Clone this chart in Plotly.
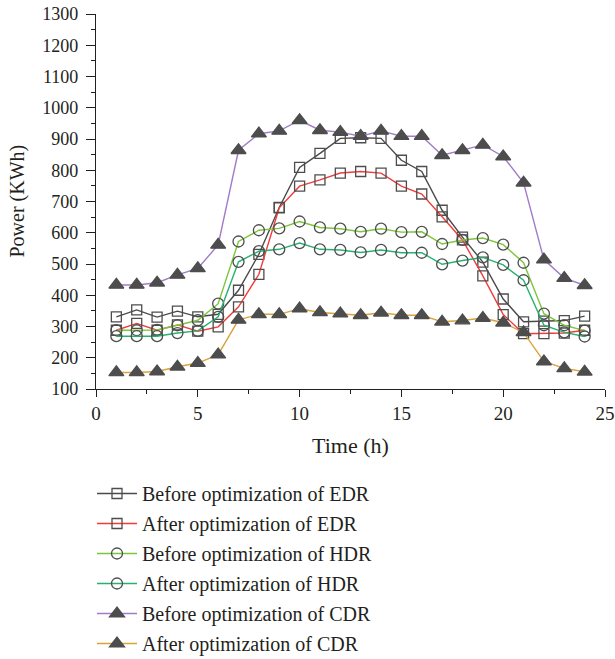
import plotly.graph_objects as go

hours = list(range(1, 25))

before_edr = [331, 353, 330, 349, 331, 339, 416, 531, 681, 809, 854, 902,
              904, 902, 832, 796, 672, 586, 506, 388, 315, 317, 319, 333]
after_edr = [288, 310, 288, 305, 285, 299, 363, 467, 680, 749, 769, 791,
             796, 791, 749, 724, 651, 577, 462, 338, 277, 277, 279, 288]
before_hdr = [288, 288, 289, 304, 320, 373, 572, 608, 614, 636, 617, 613,
              603, 613, 602, 603, 564, 577, 583, 562, 504, 341, 304, 287]
after_hdr = [269, 269, 269, 279, 286, 331, 507, 541, 547, 567, 547, 545,
             537, 545, 536, 536, 499, 511, 521, 497, 448, 304, 281, 268]
before_cdr = [433, 433, 440, 465, 486, 561, 864, 917, 926, 960, 928, 922,
              909, 926, 909, 909, 848, 864, 881, 844, 760, 514, 455, 432]
after_cdr = [153, 153, 156, 171, 183, 210, 321, 339, 339, 357, 345, 341,
             336, 344, 336, 336, 315, 319, 327, 312, 281, 188, 166, 155]

series = [
    ("Before optimization of EDR", before_edr, "#4a4a4a", "square-open", 10),
    ("After optimization of EDR", after_edr, "#f23b3b", "square-open", 10),
    ("Before optimization of HDR", before_hdr, "#7cc63a", "circle-open", 11),
    ("After optimization of HDR", after_hdr, "#23b36e", "circle-open", 11),
    ("Before optimization of CDR", before_cdr, "#a07cc8", "triangle-up", 13),
    ("After optimization of CDR", after_cdr, "#d9a23a", "triangle-up", 13),
]

FONT = "Liberation Serif"
TEXT = "#231f20"
fig = go.Figure()
for i, (name, vals, color, sym, size) in enumerate(series):
    fig.add_trace(go.Scatter(
        x=hours, y=vals, name=name, mode="lines+markers",
        legendgroup=f"g{i}",
        line=dict(color=color, width=1.4),
        marker=dict(symbol=sym, size=size, color="#4d4d4d",
                    line=dict(color="#4d4d4d", width=1.3)),
    ))

fig.update_layout(
    width=615, height=659,
    margin=dict(l=96, r=10, t=14, b=270, autoexpand=False),
    paper_bgcolor="white", plot_bgcolor="white",
    font=dict(family=FONT, size=18, color=TEXT),
    showlegend=True,
    legend=dict(
        x=92 / 615, xref="container", y=1 - 474 / 659, yref="container",
        xanchor="left", yanchor="top",
        font=dict(family=FONT, size=20, color=TEXT),
        tracegroupgap=1, itemwidth=40,
        bgcolor="rgba(0,0,0,0)",
    ),
    xaxis=dict(
        range=[0, 25], dtick=5, tick0=0,
        showline=True, linecolor=TEXT, linewidth=1.2,
        ticks="outside", ticklen=7, tickcolor=TEXT, tickwidth=1.2,
        minor=dict(ticks="outside", dtick=2.5, ticklen=4, tickcolor=TEXT),
        showgrid=False, zeroline=False,
        tickfont=dict(size=19),
    ),
    yaxis=dict(
        range=[100, 1300], dtick=100, tick0=100,
        showline=True, linecolor=TEXT, linewidth=1.2,
        ticks="outside", ticklen=9, tickcolor=TEXT, tickwidth=1.2,
        minor=dict(ticks="outside", dtick=50, ticklen=4, tickcolor=TEXT),
        showgrid=False, zeroline=False,
        ticklabelstandoff=4,
        tickfont=dict(size=18),
    ),
    annotations=[
        dict(text="Time (h)", xref="paper", yref="paper", x=0.5,
             y=(389 - 446) / 375, xanchor="center", yanchor="middle",
             showarrow=False, font=dict(size=22, family=FONT, color=TEXT)),
        dict(text="Power (KWh)", xref="paper", yref="paper",
             x=(17 - 96) / 509, y=0.5, xanchor="center", yanchor="middle",
             textangle=-90, showarrow=False,
             font=dict(size=20, family=FONT, color=TEXT)),
    ],
)

fig.write_html("out.html")
